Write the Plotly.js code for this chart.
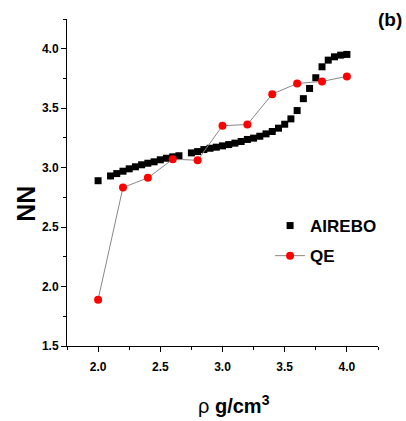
<!DOCTYPE html>
<html>
<head>
<meta charset="utf-8">
<script src="https://cdn.plot.ly/plotly-3.0.1.min.js"></script>
<style>html,body{margin:0;padding:0;background:#fff;}#chart{width:406px;height:421px;}</style>
</head>
<body>
<div id="chart"></div>
<script>
const airebo_x = [2.0, 2.1, 2.15, 2.2, 2.25, 2.3, 2.35, 2.4, 2.45, 2.5, 2.55, 2.6, 2.65,
  2.75, 2.8, 2.85, 2.9, 2.95, 3.0, 3.05, 3.1, 3.15, 3.2, 3.25, 3.3, 3.35, 3.4, 3.45,
  3.5, 3.55, 3.6, 3.65, 3.7, 3.75, 3.8, 3.85, 3.9, 3.95, 4.0];
const airebo_y = [2.89, 2.93, 2.95, 2.97, 2.99, 3.007, 3.024, 3.037, 3.049, 3.066, 3.079, 3.091, 3.10,
  3.124, 3.135, 3.152, 3.163, 3.172, 3.183, 3.194, 3.206, 3.22, 3.237, 3.248, 3.264, 3.284, 3.304, 3.332,
  3.365, 3.41, 3.48, 3.58, 3.666, 3.756, 3.848, 3.904, 3.932, 3.946, 3.952];
const qe_x = [2.0, 2.2, 2.4, 2.6, 2.8, 3.0, 3.2, 3.4, 3.6, 3.8, 4.0];
const qe_y = [1.89, 2.833, 2.914, 3.071, 3.062, 3.352, 3.363, 3.618, 3.708, 3.725, 3.767];
const x_ticks = [2.0, 2.5, 3.0, 3.5, 4.0];
const x_tick_labels = ['2.0', '2.5', '3.0', '3.5', '4.0'];
const y_ticks = [1.5, 2.0, 2.5, 3.0, 3.5, 4.0];
const y_tick_labels = ['1.5', '2.0', '2.5', '3.0', '3.5', '4.0'];

const tickFont = {family: 'Liberation Sans, Arial, sans-serif', size: 12, color: '#000', weight: 'bold'};

const traces = [
  {x: airebo_x, y: airebo_y, name: 'AIREBO', type: 'scatter', mode: 'markers', legendgroup: 'a',
   marker: {symbol: 'square', size: 7, color: '#000'}},
  {x: qe_x, y: qe_y, name: 'QE', type: 'scatter', mode: 'lines+markers', legendgroup: 'b',
   line: {color: '#888', width: 1},
   marker: {symbol: 'circle', size: 8, color: '#ff0000'}}
];

const layout = {
  width: 406, height: 421,
  margin: {l: 67, r: 28, t: 19, b: 75},
  paper_bgcolor: '#fff', plot_bgcolor: '#fff',
  showlegend: true,
  legend: {x: 0.653, y: 0.422, xanchor: 'left', yanchor: 'top',
    font: {family: 'Liberation Sans, Arial, sans-serif', size: 17, color: '#000', weight: 'bold'},
    bgcolor: 'rgba(0,0,0,0)', tracegroupgap: 5},
  xaxis: {range: [1.75, 4.25], tickvals: x_ticks, ticktext: x_tick_labels,
    ticks: 'outside', ticklen: 5, tickwidth: 1, tickcolor: '#000', ticklabelstandoff: 5,
    minor: {dtick: 0.25, tick0: 1.75, ticks: 'outside', ticklen: 3, tickcolor: '#000', showgrid: false},
    showline: true, linecolor: '#000', linewidth: 1, showgrid: false, zeroline: false,
    tickfont: tickFont},
  yaxis: {range: [1.5, 4.25], tickvals: y_ticks, ticktext: y_tick_labels,
    ticks: 'outside', ticklen: 5, tickwidth: 1, tickcolor: '#000',
    minor: {dtick: 0.25, tick0: 1.5, ticks: 'outside', ticklen: 3, tickcolor: '#000', showgrid: false},
    showline: true, linecolor: '#000', linewidth: 1, showgrid: false, zeroline: false,
    tickfont: tickFont},
  annotations: [
    {text: '<b>(b)</b>', xref: 'paper', yref: 'paper', x: 1.083, y: 1.0, xanchor: 'right', yanchor: 'middle',
     showarrow: false, font: {family: 'Liberation Sans, Arial, sans-serif', size: 19, color: '#000'}},
    {text: '<b>NN</b>', xref: 'paper', yref: 'paper', x: -0.133, y: 0.434, xanchor: 'center', yanchor: 'middle',
     textangle: -90, showarrow: false, font: {family: 'Liberation Sans, Arial, sans-serif', size: 25, color: '#000'}},
    {text: 'ρ <b>g/cm<sup>3</sup></b>', xref: 'paper', yref: 'paper', x: 0.537, y: -0.18, xanchor: 'center', yanchor: 'middle',
     showarrow: false, font: {family: 'Liberation Sans, Arial, sans-serif', size: 20, color: '#000'}}
  ]
};

Plotly.newPlot('chart', traces, layout, {displayModeBar: false, staticPlot: true});
</script>
</body>
</html>
